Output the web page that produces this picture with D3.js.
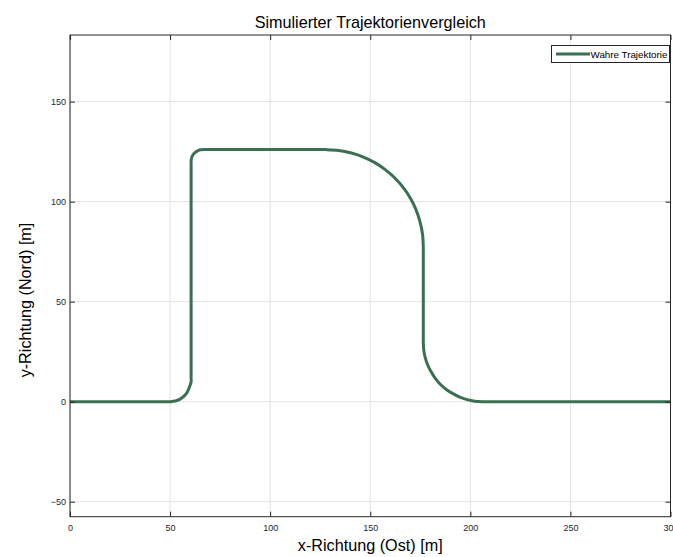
<!DOCTYPE html>
<html>
<head>
<meta charset="utf-8">
<script src="https://cdn.jsdelivr.net/npm/d3@7"></script>
<style>
  body { margin: 0; background: #fff; }
  svg { display: block; font-family: "Liberation Sans", Arial, sans-serif; }
</style>
</head>
<body>
<div id="chart"></div>
<script>
// Waypoints of the true trajectory [m]
const trajX = [0, 2, 48, 50, 52.6, 55, 57.1, 58.7, 59.7, 60.5, 60.5, 60.5, 60.5,
    60.7, 61.3, 62.4, 63.8, 65, 66.5, 68.5, 126, 128,
    134.3, 140.6, 146.6, 152.3, 157.5, 162.3, 166.5, 170.0, 172.8, 174.8, 176.1,
    176.5, 176.5, 176.5, 176.5,
    176.75, 177.5, 178.75, 180.5, 182.6, 185.1, 188.0, 191.3, 194.7, 198.4, 202.15,
    206, 208, 298, 300];
const trajY = [0, 0, 0, 0, 0.3, 1.3, 2.9, 5, 7.4, 10, 12, 118, 120,
    121.7, 123.2, 124.5, 125.4, 125.9, 126, 126, 126, 126,
    125.6, 124.3, 122.3, 119.5, 116.0, 111.8, 107.0, 101.8, 96.1, 90.1, 83.8,
    77.5, 75.5, 31.5, 29.5,
    25.65, 21.9, 18.2, 14.8, 11.5, 8.6, 6.1, 4.0, 2.25, 1.0, 0.25,
    0, 0, 0, 0];

const xTicks = [0, 50, 100, 150, 200, 250, 300];
const yTicks = [-50, 0, 50, 100, 150];
const xDomain = [0, 300];
const yDomain = [-57.5, 183.3];

function init() {
    const w = 673;
    const h = 557;
    const left = 70, right = 670.5, top = 35, bottom = 516.7;
    const axisColor = "#262626";
    const lineColor = "#3a6f51";

    const data = trajX.map((x, i) => ({ x: x, y: trajY[i] }));

    const xScale = d3.scaleLinear().domain(xDomain).range([left, right]);
    const yScale = d3.scaleLinear().domain(yDomain).range([bottom, top]);

    const svg = d3.select("#chart")
        .append("svg")
        .attr("width", w)
        .attr("height", h);

    // grid
    svg.append("g")
        .selectAll("line")
        .data(xTicks)
        .enter()
        .append("line")
        .attr("x1", d => xScale(d)).attr("x2", d => xScale(d))
        .attr("y1", top).attr("y2", bottom)
        .attr("stroke", "#e3e3e3").attr("stroke-width", 1);
    svg.append("g")
        .selectAll("line")
        .data(yTicks)
        .enter()
        .append("line")
        .attr("x1", left).attr("x2", right)
        .attr("y1", d => yScale(d)).attr("y2", d => yScale(d))
        .attr("stroke", "#e3e3e3").attr("stroke-width", 1);

    // trajectory
    const line = d3.line()
        .x(d => xScale(d.x))
        .y(d => yScale(d.y))
        .curve(d3.curveCatmullRom.alpha(0.5));

    svg.append("path")
        .datum(data)
        .attr("fill", "none")
        .attr("stroke", lineColor)
        .attr("stroke-width", 3)
        .attr("stroke-linejoin", "round")
        .attr("d", line);

    // axes (MATLAB style, ticks inward)
    const xAxis = d3.axisBottom(xScale).tickValues(xTicks).tickSize(-5).tickPadding(8);
    const gx = svg.append("g")
        .attr("transform", `translate(0,${bottom})`)
        .call(xAxis);
    const xTop = d3.axisTop(xScale).tickValues(xTicks).tickSize(-5).tickFormat("");
    const gxt = svg.append("g")
        .attr("transform", `translate(0,${top})`)
        .call(xTop);
    const yAxis = d3.axisLeft(yScale).tickValues(yTicks).tickSize(-5).tickPadding(4);
    const gy = svg.append("g")
        .attr("transform", `translate(${left},0)`)
        .call(yAxis);
    const yRight = d3.axisRight(yScale).tickValues(yTicks).tickSize(-5).tickFormat("");
    const gyr = svg.append("g")
        .attr("transform", `translate(${right},0)`)
        .call(yRight);

    [gx, gxt, gy, gyr].forEach(g => {
        g.select(".domain").remove();
        g.selectAll("line").attr("stroke", axisColor);
        g.selectAll("text")
            .attr("fill", axisColor)
            .attr("font-size", "9px")
            .attr("font-family", "Liberation Sans, Arial, sans-serif");
    });

    svg.append("rect")
        .attr("x", left).attr("y", top)
        .attr("width", right - left).attr("height", bottom - top)
        .attr("fill", "none")
        .attr("stroke", axisColor)
        .attr("stroke-width", 1);

    // legend
    const lg = svg.append("g");
    lg.append("rect")
        .attr("x", 551.5).attr("y", 45.5)
        .attr("width", 118).attr("height", 17)
        .attr("fill", "#fff")
        .attr("stroke", axisColor)
        .attr("stroke-width", 1);
    lg.append("line")
        .attr("x1", 556).attr("x2", 590)
        .attr("y1", 54).attr("y2", 54)
        .attr("stroke", lineColor).attr("stroke-width", 3);
    lg.append("text")
        .attr("x", 590.5).attr("y", 57.5)
        .attr("font-size", "9.8px")
        .attr("fill", "#000")
        .text("Wahre Trajektorie");

    // title and labels
    svg.append("text")
        .attr("x", (left + right) / 2)
        .attr("y", 27.5)
        .attr("text-anchor", "middle")
        .attr("font-size", "16.2px")
        .attr("fill", "#000")
        .text("Simulierter Trajektorienvergleich");

    svg.append("text")
        .attr("x", (left + right) / 2)
        .attr("y", 551)
        .attr("text-anchor", "middle")
        .attr("font-size", "16.2px")
        .attr("fill", "#000")
        .text("x-Richtung (Ost) [m]");

    svg.append("text")
        .attr("transform", "translate(31,300) rotate(-90)")
        .attr("text-anchor", "middle")
        .attr("font-size", "16.2px")
        .attr("fill", "#000")
        .text("y-Richtung (Nord) [m]");
}

window.onload = init;
</script>
</body>
</html>
